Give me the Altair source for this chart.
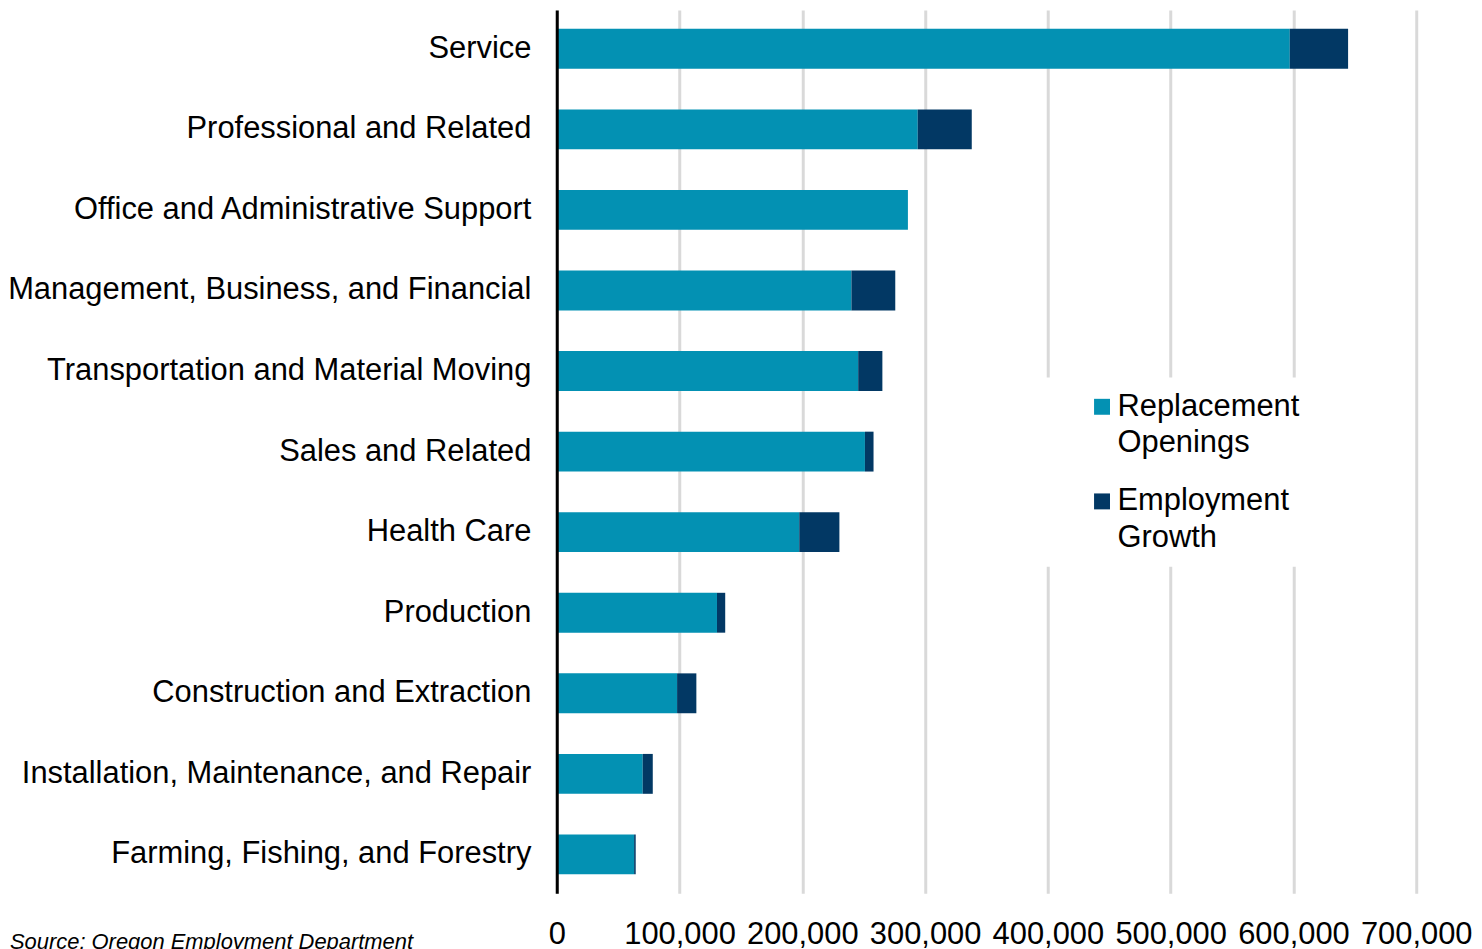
import altair as alt
import pandas as pd

categories = [
    "Service",
    "Professional and Related",
    "Office and Administrative Support",
    "Management, Business, and Financial",
    "Transportation and Material Moving",
    "Sales and Related",
    "Health Care",
    "Production",
    "Construction and Extraction",
    "Installation, Maintenance, and Repair",
    "Farming, Fishing, and Forestry",
]
replacement = [597000, 294000, 286000, 240000, 245500, 251000, 197500, 130500, 98000, 70000, 63000]
growth = [47500, 44000, 0, 35700, 19700, 7000, 32700, 6700, 15700, 8200, 1300]
series = ["Replacement Openings", "Employment Growth"]
colors = ["#0391b3", "#023864"]
x_ticks = [0, 100000, 200000, 300000, 400000, 500000, 600000, 700000]
source_note = ["Source: Oregon Employment Department"]

rows = []
for c, r, g in zip(categories, replacement, growth):
    rows.append({"category": c, "series": series[0], "value": r, "order": 0})
    rows.append({"category": c, "series": series[1], "value": g, "order": 1})
df = pd.DataFrame(rows)

bars = alt.Chart(df).mark_bar().encode(
    y=alt.Y(
        "category:N",
        sort=categories,
        scale=alt.Scale(paddingInner=0.505, paddingOuter=0.235),
        axis=alt.Axis(
            title=None, labelFontSize=31, labelColor="black", labelPadding=26,
            ticks=False, domainColor="black", domainWidth=3, labelLimit=800,
            grid=False, zindex=1,
        ),
    ),
    x=alt.X(
        "value:Q",
        stack="zero",
        scale=alt.Scale(domain=[0, 700000], nice=False),
        axis=alt.Axis(
            title=None, values=x_ticks, format=",d", grid=True, gridColor="#d9d9d9",
            gridWidth=3, domain=False, ticks=False, tickSize=0, labelFontSize=31,
            labelColor="black", labelPadding=26, labelFlush=False, labelOverlap=False,
        ),
    ),
    color=alt.Color(
        "series:N",
        scale=alt.Scale(domain=series, range=colors),
        legend=alt.Legend(
            title=None, orient="none", legendX=479, legendY=369, fillColor="white",
            padding=14, symbolType="square", symbolSize=256,
            symbolStrokeWidth=0, labelFontSize=31, labelColor="black",
            labelExpr="split(datum.label, ' ')", labelOffset=0, rowPadding=27,
            symbolOffset=39, labelLimit=400,
        ),
    ),
    order=alt.Order("order:Q"),
)

note = alt.Chart(pd.DataFrame({"t": source_note})).mark_text(
    align="left", baseline="alphabetic", fontSize=22, fontStyle="italic", color="black"
).encode(text="t:N", x=alt.value(-549), y=alt.value(943))

chart = alt.layer(bars, note).properties(
    width=863,
    height=887,
    autosize=alt.AutoSizeParams(type="none"),
    padding={"left": 551, "top": 0, "right": 58, "bottom": 54},
).configure(
    font="Liberation Sans",
    style={"guide-label": {"lineHeight": 36.5}},
).configure_view(stroke=None)

chart.save("out.html", embed_options={"renderer": "svg", "actions": False})
